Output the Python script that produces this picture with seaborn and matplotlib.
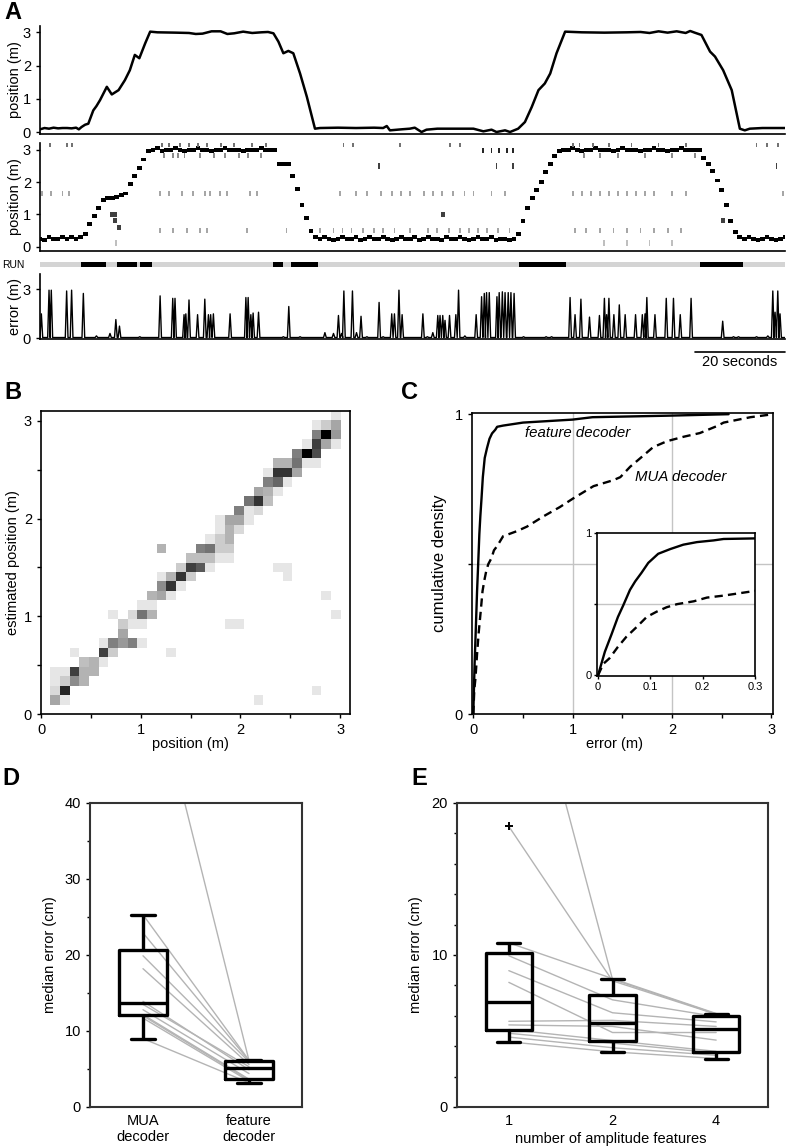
import numpy as np
import pandas as pd
import matplotlib
matplotlib.use("Agg")
import matplotlib.pyplot as plt
import matplotlib.transforms as mtransforms
from matplotlib.ticker import MultipleLocator, FuncFormatter
import seaborn as sns

# ======================= DATA =======================
# --- Panel A: true position (m) over time (s)
pos_t = [0, 1, 2, 3, 4, 5, 6, 7, 8, 8.6, 9.2, 10.0, 10.7, 11.8, 12.5, 13.3, 14.8, 15.9, 17.4, 18.8,
         19.9, 21.0, 22.0, 23.3, 24.4, 26, 30, 33, 34.5, 36, 38, 40, 41.5, 43, 45, 47, 49, 50.5,
         51.7, 52.8, 53.9, 55.0, 56.1, 57.6, 59.1, 60.9, 62, 66, 70, 74, 76, 76.8, 77.5, 80, 81.9,
         83.0, 84.5, 85.6, 88, 92, 96, 98.2, 100, 101.1, 103, 104.1, 105.9, 107.4, 108.9, 110.4,
         111.8, 113.0, 114.4, 116.3, 120, 125, 130, 133, 135, 137, 139, 141, 143, 144, 145, 146.5,
         148.4, 149.5, 151.3, 153.2, 155, 156.1, 157.2, 160, 165]
pos_v = [0.08, 0.12, 0.1, 0.13, 0.11, 0.12, 0.12, 0.11, 0.13, 0.08, 0.15, 0.22, 0.25, 0.65, 0.78,
         0.96, 1.36, 1.13, 1.26, 1.56, 1.86, 2.32, 2.22, 2.67, 3.02, 3.0, 2.99, 2.98, 2.95, 2.96,
         3.03, 3.03, 2.95, 2.97, 3.02, 2.98, 3.0, 3.01, 2.97, 2.72, 2.37, 2.44, 2.37, 1.76, 1.06,
         0.1, 0.12, 0.13, 0.12, 0.13, 0.12, 0.18, 0.05, 0.08, 0.1, 0.13, 0.0, 0.07, 0.1, 0.1, 0.1,
         0.02, 0.07, 0.0, 0.05, 0.0, 0.1, 0.3, 0.75, 1.26, 1.46, 1.76, 2.37, 3.02, 3.0, 2.99, 3.0,
         3.01, 2.98, 3.03, 2.99, 3.03, 2.98, 3.04, 2.99, 2.92, 2.42, 2.27, 1.86, 1.26, 0.1, 0.05,
         0.1, 0.12, 0.12]

# decoded position estimate, one value per 1-s bin (0..165 s)
decoded_pos = [
    0.25, 0.2, 0.3, 0.25, 0.25, 0.3, 0.25, 0.3, 0.25, 0.3,
    0.4, 0.7, 0.95, 1.2, 1.45, 1.5, 1.5, 1.55, 1.6, 1.65,
    1.95, 2.2, 2.45, 2.7, 2.95, 3.0, 3.05, 2.95, 3.0, 3.0,
    3.05, 3.0, 2.95, 3.0, 3.0, 3.05, 3.0, 3.0, 2.95, 3.0,
    3.0, 3.05, 3.0, 3.0, 3.0, 2.95, 3.0, 3.0, 3.0, 3.05,
    3.0, 3.0, 3.0, 2.55, 2.55, 2.55, 2.2, 1.8, 1.3, 0.9,
    0.5, 0.3, 0.25, 0.3, 0.25, 0.2, 0.25, 0.3, 0.25, 0.25,
    0.3, 0.2, 0.25, 0.3, 0.25, 0.25, 0.3, 0.25, 0.2, 0.25,
    0.3, 0.25, 0.25, 0.3, 0.2, 0.25, 0.3, 0.25, 0.25, 0.2,
    0.3, 0.25, 0.25, 0.3, 0.25, 0.2, 0.25, 0.3, 0.25, 0.25,
    0.3, 0.2, 0.25, 0.25, 0.2, 0.25, 0.4, 0.8, 1.2, 1.5,
    1.75, 2.0, 2.3, 2.55, 2.8, 2.95, 3.0, 3.0, 3.05, 3.0,
    2.95, 3.0, 3.0, 3.05, 3.0, 3.0, 3.0, 2.95, 3.0, 3.05,
    3.0, 3.0, 3.0, 2.95, 3.0, 3.0, 3.05, 3.0, 3.0, 2.95,
    3.0, 3.0, 3.05, 3.0, 3.0, 3.0, 3.0, 2.75, 2.55, 2.35,
    2.05, 1.75, 1.3, 0.8, 0.45, 0.3, 0.25, 0.3, 0.25, 0.2,
    0.25, 0.3, 0.25, 0.2, 0.25, 0.3]

# stray (off-trajectory) estimates: times at which they occur, grouped by estimated position
stray_top_t = [2.2, 5.9, 7.0, 27.0, 28.5, 31.0, 33.0, 35.0, 37.0, 40.0, 43.0, 47.0, 50.0, 67.2,
               69.4, 79.7, 90.8, 93.0, 118.0, 119.5, 122.5, 126.0, 131.0, 137.0, 143.0, 158.7,
               161.0, 163.5]                                   # ~3.17 m
stray_hi_t = [27.5, 29.5, 30.5, 32.0, 35.5, 38.5, 41.0, 44.0, 46.0, 49.0, 120.5, 124.0, 128.0,
              134.0, 140.0, 145.0]                             # ~2.82 m
stray_far_t = [98.2, 100.0, 101.7, 103.5, 104.8]              # ~2.97 m
stray_25_t = [75.0, 101.1, 104.8, 163.1]                      # ~2.5 m
stray_165_t = [0.4, 2.5, 5.0, 6.5, 26.6, 28.5, 31.5, 33.8, 36.5, 37.7, 39.8, 41.5, 46.5, 48.0,
               66.4, 70.0, 72.5, 75.5, 78.0, 80.0, 82.0, 85.0, 87.0, 89.0, 91.5, 94.0, 96.0,
               100.0, 103.0, 118.0, 120.0, 122.0, 124.0, 126.0, 128.0, 130.0, 132.0, 134.0,
               136.0, 140.0, 143.0, 164.5]                     # ~1.65 m
stray_05_t = [26.6, 29.5, 32.5, 35.4, 36.9, 45.8, 54.6, 62.0, 65.0, 67.0, 69.0, 71.5, 74.0, 76.0,
              78.5, 82.0, 86.0, 88.0, 90.5, 93.0, 95.0, 97.0, 99.0, 101.5, 104.0, 118.5, 121.0,
              124.0, 127.0, 130.0, 133.0, 136.0, 139.0, 142.0]  # ~0.5 m
stray_low_t = [16.8, 125.0, 130.0, 135.0, 140.0]              # ~0.12 m
stray_mid_t = [15.9, 16.6, 16.6, 17.5, 89.3, 151.3]
stray_mid_pos = [1.0, 1.0, 0.82, 0.6, 1.0, 0.82]

# RUN periods (s)
run_start = [9.1, 17.1, 22.2, 51.6, 55.6, 106.1, 146.2]
run_end = [14.6, 21.5, 24.8, 53.8, 61.6, 116.5, 155.7]

# decoding error peaks (time s, error m)
spike_t = [0.3, 2.0, 2.5, 5.9, 7.0, 9.6, 12.5, 15.5, 16.8, 17.6, 22.1, 26.6, 29.4, 29.9, 31.9,
           32.3, 33.0, 34.9, 36.5, 37.3, 37.8, 38.4, 42.1, 45.6, 46.1, 46.7, 47.2, 48.4, 53.9,
           55.1, 57.6, 63.1, 65.0, 66.1, 66.8, 67.3, 69.2, 70.1, 71.1, 72.4, 75.1, 76.0, 77.9,
           78.5, 79.5, 80.2, 84.8, 85.8, 87.0, 88.1, 88.6, 89.2, 89.7, 90.7, 92.1, 92.7, 94.1,
           96.6, 97.8, 98.4, 98.9, 99.5, 101.2, 101.7, 102.4, 103.0, 103.7, 104.3, 105.0, 107.1,
           112.1, 113.3, 117.4, 118.5, 119.8, 121.7, 123.9, 125.0, 125.5, 126.0, 127.1, 128.3,
           129.6, 131.9, 133.4, 134.0, 134.4, 136.2, 138.7, 140.3, 141.8, 144.2, 151.2, 153.6,
           154.7, 158.7, 161.2, 162.3, 162.8, 163.4, 163.9]
spike_h = [1.5, 2.95, 2.95, 2.9, 2.95, 2.75, 0.15, 0.3, 1.15, 0.75, 0.1, 2.6, 2.45, 2.45, 1.45,
           1.5, 2.35, 1.45, 2.4, 1.45, 1.45, 1.5, 1.5, 2.5, 2.5, 1.45, 1.55, 1.6, 0.1, 1.95, 0.1,
           0.35, 0.3, 1.4, 0.3, 2.9, 2.9, 0.35, 1.35, 0.1, 2.2, 0.1, 1.5, 1.5, 2.95, 1.45, 1.5,
           0.1, 0.35, 1.4, 1.4, 1.4, 1.1, 1.4, 1.45, 2.95, 0.15, 1.45, 2.55, 2.75, 2.8, 2.8,
           2.55, 2.8, 2.85, 2.8, 2.8, 2.8, 2.75, 0.1, 0.1, 0.1, 2.5, 1.45, 2.4, 1.3, 1.4, 2.45,
           1.45, 2.45, 1.45, 2.05, 1.45, 1.45, 1.45, 1.5, 2.5, 1.45, 2.45, 2.45, 1.45, 2.45, 1.05,
           0.1, 0.1, 0.1, 0.15, 2.9, 1.6, 2.9, 1.5]

# --- Panel B: confusion matrix cells (row = estimated bin, col = true bin, value = density)
heat_row = [0, 0, 0, 1, 1, 1, 2, 2, 2, 2, 3, 3, 3, 3, 3, 4, 4, 4, 5, 5, 5, 5, 6, 6, 6, 6, 6, 7,
            8, 8, 8, 8, 8, 9, 9, 9, 9, 9, 10, 10, 11, 11, 11, 11, 12, 12, 12, 13, 13, 13, 13, 13,
            14, 14, 14, 14, 14, 14, 15, 15, 15, 15, 15, 16, 16, 16, 16, 16, 17, 17, 17, 18, 18, 18,
            19, 19, 19, 19, 20, 20, 20, 21, 21, 21, 22, 22, 22, 23, 23, 23, 24, 24, 24, 24,
            25, 25, 25, 25, 25, 26, 26, 26, 27, 27, 27, 27, 28, 28, 28, 29, 29, 29, 30]
heat_col = [0, 1, 21, 0, 1, 27, 0, 1, 2, 3, 0, 1, 2, 3, 4, 3, 4, 5, 2, 5, 6, 12, 5, 6, 7, 8, 9, 7,
            7, 8, 9, 18, 19, 6, 8, 9, 10, 29, 9, 10, 10, 11, 12, 28, 11, 12, 13, 11, 12, 13, 14, 24,
            13, 14, 15, 16, 23, 24, 14, 15, 16, 17, 18, 11, 15, 16, 17, 18, 16, 17, 18, 17, 18, 19,
            17, 18, 19, 20, 19, 20, 21, 20, 21, 22, 21, 22, 23, 22, 23, 24, 22, 23, 24, 25,
            23, 24, 25, 26, 27, 25, 26, 27, 26, 27, 28, 29, 27, 28, 29, 27, 28, 29, 29]
heat_val = [0.35, 0.1, 0.1, 0.15, 0.85, 0.1, 0.1, 0.2, 0.45, 0.3, 0.1, 0.1, 0.75, 0.3, 0.3,
            0.25, 0.3, 0.1, 0.1, 0.75, 0.2, 0.1, 0.1, 0.5, 0.4, 0.5, 0.1, 0.35,
            0.2, 0.1, 0.1, 0.1, 0.1, 0.1, 0.15, 0.55, 0.3, 0.1, 0.1, 0.1, 0.3, 0.35, 0.1, 0.1,
            0.45, 0.8, 0.1, 0.1, 0.3, 0.8, 0.2, 0.1, 0.2, 0.75, 0.65, 0.1, 0.1, 0.1,
            0.25, 0.25, 0.25, 0.1, 0.1, 0.3, 0.5, 0.55, 0.2, 0.2, 0.1, 0.2, 0.3, 0.1, 0.3, 0.15,
            0.1, 0.35, 0.35, 0.1, 0.5, 0.1, 0.15, 0.55, 0.8, 0.25, 0.35, 0.3, 0.1, 0.5, 0.6, 0.1,
            0.1, 0.8, 0.8, 0.35, 0.3, 0.3, 0.55, 0.1, 0.1, 0.5, 1.0, 0.7, 0.1, 0.75, 0.35, 0.1,
            0.5, 1.0, 0.4, 0.1, 0.2, 0.35, 0.1]
bin_origin = 0.095   # m
bin_width = 0.097    # m

# --- Panel C: cumulative error distributions
feat_err = [0, 0.013, 0.026, 0.038, 0.048, 0.061, 0.071, 0.083, 0.096, 0.115, 0.138, 0.163,
            0.189, 0.221, 0.24, 0.30, 0.5, 1.0, 1.2, 1.95, 2.57]
feat_cdf = [0, 0.165, 0.29, 0.41, 0.49, 0.6, 0.66, 0.72, 0.79, 0.854, 0.887, 0.918, 0.936,
            0.948, 0.958, 0.962, 0.972, 0.982, 0.99, 0.995, 1.0]
mua_err = [0, 0.01, 0.022, 0.038, 0.054, 0.074, 0.093, 0.112, 0.131, 0.151, 0.183, 0.208,
           0.24, 0.30, 0.44, 0.54, 0.71, 0.87, 1.01, 1.21, 1.41, 1.48, 1.58, 1.68, 1.81, 1.95,
           2.12, 2.28, 2.45, 2.52, 2.79, 3.02]
mua_cdf = [0, 0.08, 0.12, 0.2, 0.27, 0.34, 0.41, 0.447, 0.478, 0.5, 0.52, 0.546, 0.56, 0.593,
           0.61, 0.625, 0.66, 0.69, 0.72, 0.76, 0.78, 0.79, 0.825, 0.853, 0.89, 0.91, 0.925,
           0.937, 0.96, 0.972, 0.99, 1.0]

# --- Panels D/E: median error (cm) per dataset
mua_median = [62.0, 22.9, 25.3, 19.9, 18.2, 13.9, 13.5, 12.8, 12.15, 12.0, 11.7, 9.0]
feat1_median = [34.0, 18.46, 10.8, 9.95, 8.97, 8.2, 5.64, 5.4, 5.1, 4.85, 4.6, 4.29]
feat2_median = [8.4, 8.3, 8.45, 7.05, 6.2, 4.9, 5.7, 5.3, 4.37, 4.2, 3.9, 3.63]
feat4_median = [6.12, 6.1, 6.15, 5.95, 5.6, 4.9, 5.3, 4.4, 3.66, 3.55, 3.4, 3.19]
d_labels = ["MUA\ndecoder", "feature\ndecoder"]
e_labels = ["1", "2", "4"]

# ======================= STYLE =======================
sns.set_theme(style="ticks")
plt.rcParams["font.family"] = ["Liberation Sans", "DejaVu Sans"]
plt.rcParams.update({
    "axes.edgecolor": "black", "axes.labelcolor": "black", "text.color": "black",
    "xtick.color": "black", "ytick.color": "black",
    "axes.linewidth": 1.2, "xtick.major.width": 1.0, "ytick.major.width": 1.0,
    "xtick.minor.width": 1.0, "ytick.minor.width": 1.0,
    "xtick.major.size": 3.0, "ytick.major.size": 3.0,
    "xtick.minor.size": 3.0, "ytick.minor.size": 3.0,
    "xtick.labelsize": 10.5, "ytick.labelsize": 10.5, "axes.labelsize": 10.5,
    "xtick.direction": "out", "ytick.direction": "out",
})

W, H = 786, 1147
fig = plt.figure(figsize=(W / 100, H / 100), dpi=100)
fig.patch.set_facecolor("white")


def add_ax(x0, y0, x1, y1):
    return fig.add_axes([x0 / W, 1 - y1 / H, (x1 - x0) / W, (y1 - y0) / H])


T_END = 165
int_fmt = FuncFormatter(lambda v, p: f"{v:.0f}" if abs(v - round(v)) < 1e-6 else "")

# ---------- A1: position ----------
ax1 = add_ax(40, 26, 785, 134)
sns.lineplot(x=pos_t, y=pos_v, ax=ax1, color="black", lw=1.8, estimator=None, sort=False)
ax1.set_xlim(0, T_END)
ax1.set_ylim(-0.06, 3.19)
ax1.set_yticks([0, 1, 2, 3])
ax1.set_xticks([])
for s in ["top", "right"]:
    ax1.spines[s].set_visible(False)
ax1.set_ylabel("position (m)")
ax1.yaxis.set_label_coords(-0.024, 0.5)

# ---------- A2: decoded posterior raster ----------
ax2 = add_ax(40, 143, 785, 251)
dec_t = np.arange(len(decoded_pos))
ax2.bar(dec_t, 0.12, bottom=np.array(decoded_pos) - 0.06, width=1.05, color="black", lw=0)
stray_groups = [
    (stray_top_t, 3.17, 0.55), (stray_hi_t, 2.82, 0.45), (stray_far_t, 2.97, 0.85),
    (stray_25_t, 2.5, 0.75), (stray_165_t, 1.65, 0.35), (stray_05_t, 0.5, 0.35),
    (stray_low_t, 0.12, 0.25),
]
for tt, lvl, shade in stray_groups:
    ax2.bar(tt, 0.16, bottom=lvl - 0.08, width=0.4, color=str(1 - shade), lw=0)
ax2.bar(stray_mid_t, 0.14, bottom=np.array(stray_mid_pos) - 0.07, width=0.8, color="0.25", lw=0)
ax2.set_xlim(0, T_END)
ax2.set_ylim(-0.13, 3.21)
ax2.set_yticks([0, 1, 2, 3])
ax2.set_xticks([])
for s in ["top", "right"]:
    ax2.spines[s].set_visible(False)
ax2.set_ylabel("position (m)")
ax2.yaxis.set_label_coords(-0.024, 0.5)

# ---------- RUN bar ----------
axr = add_ax(40, 262, 785, 267)
axr.barh(0, T_END, left=0, height=1, color="#d4d4d4", lw=0)
axr.barh([0] * len(run_start), np.array(run_end) - np.array(run_start), left=run_start,
         height=1, color="black", lw=0)
axr.set_xlim(0, T_END)
axr.set_ylim(-0.5, 0.5)
axr.axis("off")
axr.text(-0.021, 0.5, "RUN", transform=axr.transAxes, ha="right", va="center", fontsize=7.5)

# ---------- A3: error ----------
ax3 = add_ax(40, 274, 785, 339)
err_t, err_v = [0.0], [0.05]
for t, h in sorted(zip(spike_t, spike_h)):
    err_t += [t - 0.3, t, t + 0.3]
    err_v += [0.05, h, 0.05]
err_t.append(T_END)
err_v.append(0.05)
ax3.plot(err_t, err_v, color="black", lw=1.0)
ax3.set_xlim(0, T_END)
ax3.set_ylim(-0.04, 3.94)
ax3.set_yticks([0, 3])
ax3.set_xticks([])
for s in ["top", "right"]:
    ax3.spines[s].set_visible(False)
ax3.set_ylabel("error (m)")
ax3.yaxis.set_label_coords(-0.024, 0.5)
blend = mtransforms.blended_transform_factory(ax3.transData, ax3.transAxes)
ax3.plot([T_END - 20, T_END], [-0.2, -0.2], color="black", lw=1.2, transform=blend, clip_on=False)
ax3.text(T_END - 10, -0.35, "20 seconds", transform=blend, ha="center", va="center", fontsize=10.5)

# ---------- B: confusion heatmap ----------
axb = add_ax(41, 411, 350, 714)
n_rows, n_cols = max(heat_row) + 1, max(heat_col) + 1
mat = np.zeros((n_rows, n_cols))
mat[heat_row, heat_col] = heat_val
x_edges = bin_origin + bin_width * np.arange(n_cols + 1)
y_edges = bin_origin + bin_width * np.arange(n_rows + 1)
axb.pcolormesh(x_edges, y_edges, np.ma.masked_equal(mat, 0), cmap="gray_r", vmin=0, vmax=1)
axb.set_xlim(0, 3.1)
axb.set_ylim(0, 3.1)
for a in (axb.xaxis, axb.yaxis):
    a.set_major_locator(MultipleLocator(0.5))
    a.set_major_formatter(int_fmt)
axb.set_xlabel("position (m)")
axb.set_ylabel("estimated position (m)")
axb.xaxis.set_label_coords(0.485, -0.076)
axb.yaxis.set_label_coords(-0.068, 0.5)

# ---------- C: cumulative error ----------
axc = add_ax(472, 413, 773, 714)
for gx in (1, 2):
    axc.axvline(gx, color="#c4c4c4", lw=1.0, zorder=0)
axc.axhline(0.5, color="#c4c4c4", lw=1.0, zorder=0)
sns.lineplot(x=feat_err, y=feat_cdf, ax=axc, color="black", lw=1.7, estimator=None, sort=False)
axc.plot(mua_err, mua_cdf, color="black", lw=1.7, linestyle=(0, (3.5, 2.2)))
axc.set_xlim(-0.013, 3.017)
axc.set_ylim(0, 1.004)
axc.xaxis.set_major_locator(MultipleLocator(0.5))
axc.xaxis.set_major_formatter(int_fmt)
axc.set_yticks([0, 0.5, 1])
axc.set_yticklabels(["0", "", "1"])
axc.text(0.52, 0.937, "feature decoder", style="italic", fontsize=10.8, ha="left", va="center")
axc.text(1.63, 0.792, "MUA decoder", style="italic", fontsize=10.8, ha="left", va="center")
axc.set_xlabel("error (m)")
axc.set_ylabel("cumulative density", fontsize=12)
axc.xaxis.set_label_coords(0.472, -0.076)
axc.yaxis.set_label_coords(-0.083, 0.5)

# inset
axi = add_ax(597, 533, 755, 676)
axi.set_facecolor("white")
axi.axhline(0.5, color="#c4c4c4", lw=1.0, zorder=0)
sns.lineplot(x=feat_err, y=feat_cdf, ax=axi, color="black", lw=1.7, estimator=None, sort=False)
axi.plot(mua_err, mua_cdf, color="black", lw=1.7, linestyle=(0, (3.5, 2.2)))
axi.set_xlim(-0.002, 0.3)
axi.set_ylim(-0.005, 1.0)
axi.set_xticks([0, 0.1, 0.2, 0.3])
axi.set_xticklabels(["0", "0.1", "0.2", "0.3"])
axi.set_yticks([0, 0.5, 1])
axi.set_yticklabels(["0", "", "1"])
axi.tick_params(labelsize=8, length=2.5, pad=1.5)

# ---------- D: MUA vs feature ----------
axd = add_ax(90, 803, 302, 1107)
for a, b in zip(mua_median, feat4_median):
    axd.plot([0, 1], [a, b], color="#b4b4b4", lw=1.0, zorder=1)
df_d = pd.DataFrame({"decoder": [d_labels[0]] * len(mua_median) + [d_labels[1]] * len(feat4_median),
                     "err": mua_median + feat4_median})
sns.boxplot(data=df_d, x="decoder", y="err", order=d_labels, ax=axd, fill=False, color="black",
            width=0.45, linewidth=2.4, whis=1.5,
            flierprops=dict(marker="+", markersize=6, markeredgewidth=1.4))
axd.set_xlim(-0.5, 1.5)
axd.set_ylim(0, 40)
axd.set_yticks([0, 10, 20, 30, 40])
axd.yaxis.set_minor_locator(MultipleLocator(5))
axd.tick_params(axis="y", which="minor", length=2.0)
axd.tick_params(axis="x", length=0, pad=5)
axd.set_xlabel("")
axd.set_ylabel("median error (cm)")
axd.yaxis.set_label_coords(-0.156, 0.5)
for s in axd.spines.values():
    s.set_linewidth(1.5)
    s.set_color("#333333")

# ---------- E: number of amplitude features ----------
axe = add_ax(457, 803, 768, 1107)
for a, b, c in zip(feat1_median, feat2_median, feat4_median):
    axe.plot([0, 1, 2], [a, b, c], color="#b4b4b4", lw=1.0, zorder=1)
df_e = pd.DataFrame({"n": [e_labels[0]] * len(feat1_median) + [e_labels[1]] * len(feat2_median)
                     + [e_labels[2]] * len(feat4_median),
                     "err": feat1_median + feat2_median + feat4_median})
sns.boxplot(data=df_e, x="n", y="err", order=e_labels, ax=axe, fill=False, color="black",
            width=0.45, linewidth=2.4, whis=1.5,
            flierprops=dict(marker="+", markersize=6, markeredgewidth=1.4))
axe.set_xlim(-0.5, 2.5)
axe.set_ylim(0, 20)
axe.set_yticks([0, 10, 20])
axe.yaxis.set_minor_locator(MultipleLocator(2))
axe.tick_params(axis="y", which="minor", length=2.0)
axe.tick_params(axis="x", length=0, pad=5)
axe.set_xlabel("number of amplitude features")
axe.set_ylabel("median error (cm)")
axe.xaxis.set_label_coords(0.495, -0.082)
axe.yaxis.set_label_coords(-0.109, 0.5)
for s in axe.spines.values():
    s.set_linewidth(1.5)
    s.set_color("#333333")

# ---------- panel letters ----------
for letter, x, y in [("A", 4, 1), ("B", 4, 381), ("C", 401, 381), ("D", 2, 767), ("E", 411, 767)]:
    fig.text(x / W, 1 - y / H, letter, fontsize=17, fontweight="bold", ha="left", va="top")

fig.savefig("out.png", dpi=100, facecolor="white")
